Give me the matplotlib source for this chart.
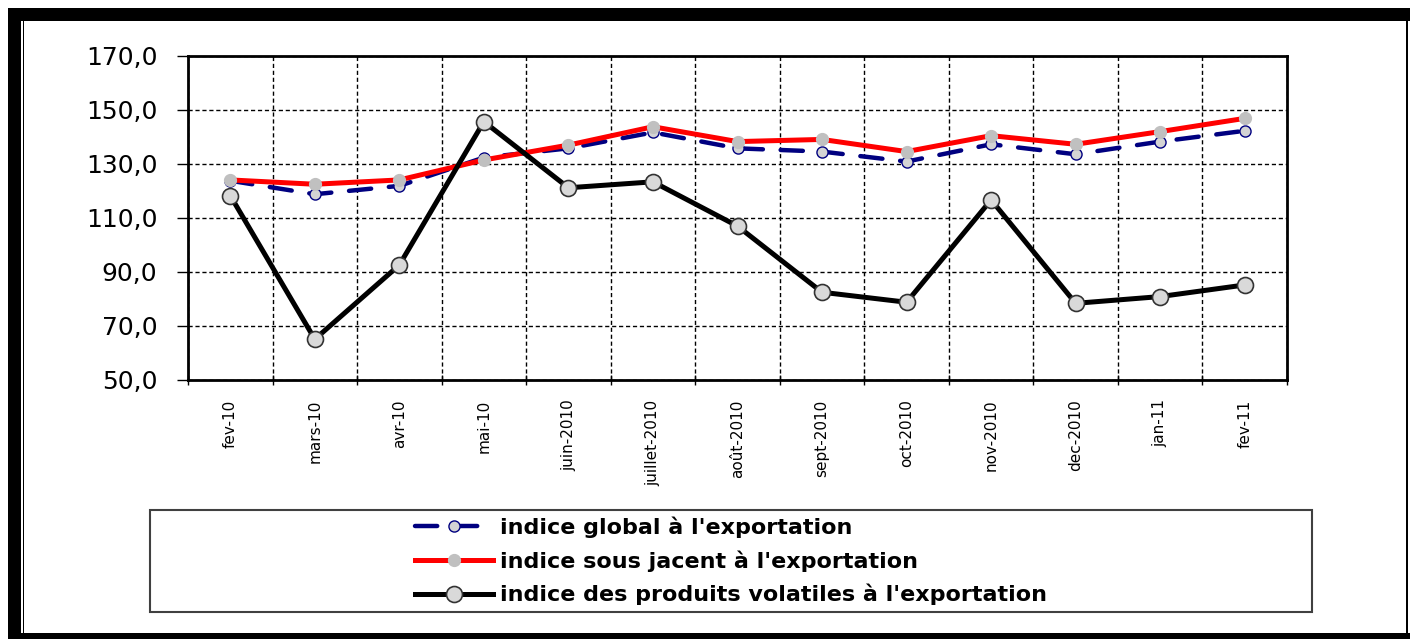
import numpy as np
import matplotlib
matplotlib.use("Agg")
import matplotlib.pyplot as plt
from matplotlib.patches import Rectangle
from matplotlib.ticker import FuncFormatter

plt.rcParams['font.family'] = ['DejaVu Sans']

# data
mois = ['fev-10', 'mars-10', 'avr-10', 'mai-10', 'juin-2010', 'juillet-2010',
        'août-2010', 'sept-2010', 'oct-2010', 'nov-2010', 'dec-2010', 'jan-11', 'fev-11']
indice_global = [123.8, 118.8, 121.9, 132.4, 135.8, 141.7, 135.8, 134.6,
                 130.9, 137.3, 133.6, 138.3, 142.3]
indice_sous_jacent = [124.1, 122.5, 124.1, 131.5, 137.0, 143.8, 138.3, 139.1,
                      134.6, 140.5, 137.3, 142.0, 146.9]
indice_volatiles = [118.3, 65.1, 92.6, 145.7, 121.2, 123.4, 107.0, 82.5,
                    78.8, 116.7, 78.4, 80.9, 85.2]
noms = ["indice global à l'exportation",
        "indice sous jacent à l'exportation",
        "indice des produits volatiles à l'exportation"]
graduations = [50, 70, 90, 110, 130, 150, 170]

W, H = 1410, 639


def fx(x):
    return x / W


def fy(y):
    return 1 - y / H


fig = plt.figure(figsize=(W / 100, H / 100), dpi=100)
ax = fig.add_axes([fx(188), fy(380), fx(1287) - fx(188), fy(56) - fy(380)])

x = np.arange(len(mois)) + 0.5

l1, = ax.plot(x, indice_global, color='#000080', lw=3.2, dashes=(5, 4),
              dash_capstyle='round', marker='o', ms=8, mfc='#d4d4d4',
              mec='#000080', mew=1, zorder=3)
l2, = ax.plot(x, indice_sous_jacent, color='#ff0000', lw=3.6, marker='o',
              ms=8.5, mfc='#c0c0c0', mec='#c0c0c0', zorder=4)
l3, = ax.plot(x, indice_volatiles, color='black', lw=3.6, marker='o',
              ms=11.5, mfc='#d9d9d9', mec='#333333', mew=1.2, zorder=5)

ax.set_xlim(0, len(mois))
ax.set_ylim(50, 170)
ax.set_yticks(graduations)
ax.yaxis.set_major_formatter(FuncFormatter(lambda v, p: f"{v:.1f}".replace('.', ',')))
ax.set_xticks(np.arange(len(mois) + 1))
ax.set_xticklabels([])
ax.set_xticks(x, minor=True)
ax.set_xticklabels(mois, minor=True, rotation=90, fontsize=11)
ax.tick_params(axis='x', which='minor', length=0, pad=14)
ax.tick_params(axis='x', which='major', length=7, width=1, direction='inout')
ax.tick_params(axis='y', length=8, width=1, direction='out', pad=14, labelsize=18)

ax.grid(True, which='major', color='black', ls=(0, (3, 2)), lw=1)
for s in ax.spines.values():
    s.set_linewidth(2)
    s.set_color('black')

# cadre exterieur
bords = [(8, 8, W - 8, 13), (8, 8, 13, H - 8), (8, 633, W - 8, 6),
         (1406, 21, 2, 612), (22.5, 21, 1.5, 612)]
for bx, by, bw, bh in bords:
    fig.add_artist(Rectangle((fx(bx), fy(by + bh)), bw / W, bh / H,
                             transform=fig.transFigure, color='black', lw=0))

# boite de legende
fig.add_artist(Rectangle((fx(150), fy(612)), (1312 - 150) / W, (612 - 510) / H,
                         transform=fig.transFigure, facecolor='white',
                         edgecolor='#404040', lw=1.5))
fig.legend([l1, l2, l3], noms, loc='center',
           bbox_to_anchor=(fx(731), fy(561)), frameon=False,
           prop={'weight': 'bold', 'size': 16}, handlelength=3.5,
           handletextpad=0.3, labelspacing=0.55, numpoints=1)

fig.savefig('out.png', dpi=100)
